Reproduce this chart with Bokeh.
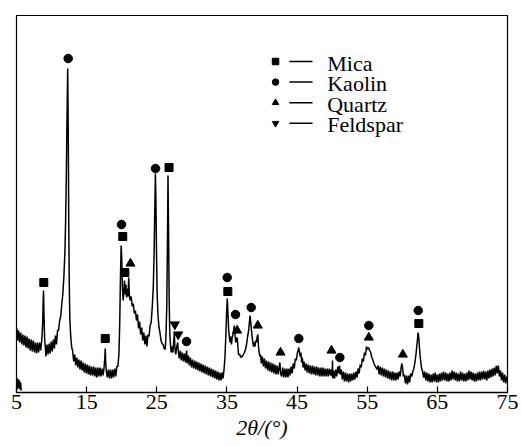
from bokeh.plotting import figure
from bokeh.models import Range1d, FixedTicker
from bokeh.embed import file_html
from bokeh.resources import INLINE
from bokeh.core.properties import value

# ---------------- data ----------------
two_theta = [
    5.05, 5.2, 5.3, 5.45, 5.6, 5.75, 5.9, 6.05, 6.2, 6.35,
    6.5, 6.65, 6.8, 6.95, 7.1, 7.25, 7.4, 7.55, 7.7, 7.85,
    8.0, 8.15, 8.3, 8.45, 8.6, 8.72, 8.8, 8.85, 8.92, 9.0,
    9.1, 9.2, 9.35, 9.5, 9.65, 9.8, 9.95, 10.1, 10.25, 10.4,
    10.55, 10.7, 10.85, 11.0, 11.15, 11.3, 11.45, 11.6, 11.75, 11.9,
    12.0, 12.1, 12.2, 12.3, 12.38, 12.45, 12.52, 12.6, 12.7, 12.8,
    12.9, 13.0, 13.15, 13.3, 13.45, 13.6, 13.75, 13.9, 14.05, 14.2,
    14.35, 14.5, 14.65, 14.8, 14.95, 15.1, 15.25, 15.4, 15.55, 15.7,
    15.85, 16.0, 16.15, 16.3, 16.45, 16.6, 16.75, 16.9, 17.05, 17.2,
    17.35, 17.5, 17.6, 17.65, 17.72, 17.8, 17.95, 18.1, 18.25, 18.4,
    18.55, 18.7, 18.85, 19.0, 19.15, 19.3, 19.45, 19.6, 19.72, 19.82,
    19.92, 20.0, 20.1, 20.2, 20.3, 20.4, 20.5, 20.6, 20.7, 20.8,
    20.9, 21.0, 21.08, 21.2, 21.35, 21.5, 21.65, 21.8, 21.95, 22.1,
    22.25, 22.4, 22.55, 22.7, 22.85, 23.0, 23.15, 23.3, 23.45, 23.6,
    23.75, 23.9, 24.05, 24.2, 24.35, 24.5, 24.62, 24.72, 24.8, 24.88,
    24.96, 25.05, 25.15, 25.3, 25.45, 25.6, 25.75, 25.9, 26.05, 26.2,
    26.3, 26.42, 26.52, 26.6, 26.68, 26.76, 26.85, 26.95, 27.05, 27.15,
    27.3, 27.42, 27.5, 27.58, 27.7, 27.85, 27.98, 28.08, 28.2, 28.35,
    28.5, 28.65, 28.8, 28.95, 29.1, 29.25, 29.35, 29.5, 29.65, 29.8,
    29.95, 30.1, 30.25, 30.4, 30.55, 30.7, 30.85, 31.0, 31.15, 31.3,
    31.45, 31.6, 31.75, 31.9, 32.05, 32.2, 32.35, 32.5, 32.65, 32.8,
    32.95, 33.1, 33.25, 33.4, 33.55, 33.7, 33.85, 34.0, 34.15, 34.3,
    34.45, 34.6, 34.72, 34.85, 34.95, 35.05, 35.15, 35.25, 35.35, 35.45,
    35.55, 35.65, 35.75, 35.85, 35.95, 36.05, 36.15, 36.25, 36.35, 36.45,
    36.55, 36.65, 36.75, 36.85, 36.95, 37.05, 37.2, 37.35, 37.5, 37.65,
    37.8, 37.95, 38.1, 38.2, 38.3, 38.4, 38.5, 38.6, 38.7, 38.8,
    38.9, 39.0, 39.1, 39.2, 39.3, 39.4, 39.5, 39.6, 39.7, 39.8,
    39.9, 40.05, 40.2, 40.35, 40.5, 40.65, 40.8, 40.95, 41.1, 41.25,
    41.4, 41.55, 41.7, 41.85, 42.0, 42.15, 42.3, 42.45, 42.55, 42.65,
    42.8, 42.95, 43.1, 43.25, 43.4, 43.55, 43.7, 43.85, 44.0, 44.15,
    44.3, 44.45, 44.6, 44.75, 44.9, 45.05, 45.15, 45.25, 45.35, 45.45,
    45.55, 45.65, 45.75, 45.85, 46.0, 46.15, 46.3, 46.45, 46.6, 46.75,
    46.9, 47.05, 47.2, 47.35, 47.5, 47.65, 47.8, 47.95, 48.1, 48.25,
    48.4, 48.55, 48.7, 48.85, 49.0, 49.15, 49.3, 49.45, 49.6, 49.75,
    49.9, 50.0, 50.05, 50.1, 50.2, 50.35, 50.5, 50.65, 50.8, 50.95,
    51.05, 51.15, 51.3, 51.45, 51.6, 51.75, 51.9, 52.05, 52.2, 52.35,
    52.5, 52.65, 52.8, 52.95, 53.1, 53.25, 53.4, 53.55, 53.7, 53.85,
    54.0, 54.15, 54.3, 54.45, 54.6, 54.75, 54.9, 55.05, 55.2, 55.35,
    55.5, 55.65, 55.8, 55.95, 56.1, 56.25, 56.4, 56.55, 56.7, 56.85,
    57.0, 57.15, 57.3, 57.45, 57.6, 57.75, 57.9, 58.05, 58.2, 58.35,
    58.5, 58.65, 58.8, 58.95, 59.1, 59.25, 59.4, 59.55, 59.7, 59.85,
    59.95, 60.05, 60.15, 60.3, 60.45, 60.6, 60.75, 60.9, 61.05, 61.2,
    61.35, 61.5, 61.65, 61.8, 61.95, 62.05, 62.15, 62.25, 62.35, 62.45,
    62.55, 62.65, 62.75, 62.9, 63.05, 63.2, 63.35, 63.5, 63.65, 63.8,
    63.95, 64.1, 64.25, 64.4, 64.55, 64.7, 64.85, 65.0, 65.15, 65.3,
    65.45, 65.6, 65.75, 65.9, 66.05, 66.2, 66.35, 66.5, 66.65, 66.8,
    66.95, 67.1, 67.25, 67.4, 67.55, 67.7, 67.85, 68.0, 68.15, 68.3,
    68.45, 68.6, 68.75, 68.9, 69.05, 69.2, 69.35, 69.5, 69.65, 69.8,
    69.95, 70.1, 70.25, 70.4, 70.55, 70.7, 70.85, 71.0, 71.15, 71.3,
    71.45, 71.6, 71.75, 71.9, 72.05, 72.2, 72.35, 72.5, 72.65, 72.8,
    72.95, 73.1, 73.25, 73.4, 73.55, 73.7, 73.85, 74.0, 74.15, 74.3,
    74.45, 74.6, 74.75, 74.9,
]
intensity = [
    64, 52, 62, 50, 60, 48, 58, 47, 57, 45,
    56, 44, 54, 42, 53, 41, 52, 40, 50, 39,
    50, 40, 50, 42, 52, 68, 90, 102, 78, 55,
    46, 36, 48, 38, 49, 39, 51, 41, 53, 44,
    57, 48, 62, 62, 72, 76, 88, 98, 115, 140,
    170, 215, 275, 324, 260, 170, 110, 75, 60, 50,
    44, 42, 31, 38, 27, 35, 25, 33, 23, 32,
    22, 30, 20, 29, 19, 28, 18, 27, 17, 26,
    17, 26, 16, 25, 15, 25, 16, 25, 16, 24,
    17, 26, 36, 44, 30, 22, 15, 23, 14, 23,
    14, 23, 15, 24, 16, 26, 26, 38, 70, 115,
    147, 135, 105, 92, 100, 112, 98, 108, 95, 104,
    96, 115, 98, 92, 96, 86, 89, 79, 82, 72,
    78, 64, 71, 58, 65, 52, 60, 48, 57, 46,
    58, 56, 67, 70, 85, 105, 140, 185, 219, 190,
    140, 100, 80, 66, 60, 52, 49, 48, 44, 43,
    55, 85, 150, 217, 160, 95, 60, 48, 40, 46,
    40, 52, 60, 45, 38, 46, 50, 40, 34, 42,
    32, 40, 31, 39, 30, 42, 29, 37, 27, 35,
    25, 33, 24, 32, 23, 31, 22, 30, 21, 29,
    20, 28, 19, 27, 18, 26, 17, 25, 16, 24,
    15, 23, 14, 22, 13, 21, 12, 20, 12, 20,
    14, 24, 35, 58, 80, 94, 78, 62, 55, 50,
    56, 48, 55, 58, 62, 67, 58, 50, 54, 55,
    48, 38, 38, 38, 35, 36, 36, 38, 40, 43,
    48, 56, 62, 70, 77, 70, 62, 55, 50, 46,
    50, 46, 52, 50, 55, 58, 46, 40, 36, 38,
    29, 36, 26, 34, 24, 32, 22, 31, 21, 30,
    20, 29, 19, 28, 18, 27, 18, 26, 30, 19,
    16, 25, 15, 24, 15, 24, 15, 24, 17, 26,
    19, 29, 24, 34, 32, 40, 42, 45, 40, 36,
    40, 30, 35, 25, 31, 22, 29, 20, 28, 19,
    27, 18, 27, 18, 26, 17, 26, 17, 25, 16,
    25, 16, 25, 16, 24, 16, 24, 16, 24, 17,
    23, 16, 32, 14, 22, 14, 23, 16, 26, 19,
    27, 18, 23, 13, 21, 11, 20, 11, 19, 10,
    19, 11, 19, 12, 20, 13, 21, 15, 24, 19,
    28, 25, 34, 31, 40, 37, 46, 43, 45, 42,
    40, 35, 33, 29, 27, 25, 23, 27, 18, 26,
    17, 25, 16, 24, 15, 23, 14, 22, 13, 21,
    12, 21, 12, 20, 12, 20, 13, 21, 16, 26,
    29, 24, 16, 18, 9, 17, 8, 17, 10, 19,
    16, 21, 24, 30, 38, 45, 52, 60, 55, 45,
    36, 30, 24, 21, 15, 21, 12, 20, 11, 19,
    10, 18, 10, 19, 11, 20, 10, 18, 10, 19,
    11, 20, 12, 21, 12, 20, 11, 19, 11, 20,
    12, 22, 13, 21, 12, 20, 11, 19, 11, 21,
    12, 20, 11, 19, 11, 20, 12, 22, 13, 21,
    12, 20, 11, 19, 11, 20, 12, 21, 12, 21,
    13, 22, 13, 21, 12, 22, 14, 23, 15, 24,
    16, 25, 17, 27, 19, 27, 16, 22, 12, 20,
    10, 18, 9, 16,
]
assert len(two_theta) == len(intensity)

# short trace at the very start of the scan (near the axis)
start_theta = [5.08, 5.14, 5.2, 5.27, 5.34, 5.42, 5.5, 5.58, 5.66]
start_int = [3, 14, 4, 13, 5, 12, 3, 10, 2]

# phase marks
mica_theta = [8.89, 17.65, 20.15, 20.45, 26.75, 35.13, 62.36]
mica_int = [110, 54, 156, 120, 225, 101, 69]
kaolin_theta = [12.37, 19.97, 24.82, 29.24, 35.04, 36.22, 38.46, 45.25, 51.1, 55.23, 62.27]
kaolin_int = [334, 168, 224, 51, 115, 78, 85, 54, 35, 67, 82]
quartz_theta = [21.25, 36.46, 39.4, 42.64, 49.91, 55.23, 60.08]
quartz_int = [129, 62, 67, 40, 42, 55, 38]
feldspar_theta = [27.57, 28.05]
feldspar_int = [68, 58]

legend_labels = ["Mica", "Kaolin", "Quartz", "Feldspar"]
legend_markers = ["square", "circle", "triangle", "inverted_triangle"]

x_ticks = [5, 15, 25, 35, 45, 55, 65, 75]
x_title = "2θ/(°)"

# ---------------- figure ----------------
FONT = "Liberation Serif"
p = figure(width=521, height=446, x_range=Range1d(5, 75), y_range=Range1d(0, 377),
           output_backend="svg", toolbar_location=None, y_axis_location=None,
           min_border_left=16, min_border_right=14, min_border_top=15, min_border_bottom=54)
p.grid.visible = False
p.outline_line_color = "black"
p.outline_line_width = 1.2
p.outline_line_alpha = 1
p.background_fill_color = "white"
p.border_fill_color = "white"

ax = p.xaxis[0]
ax.ticker = FixedTicker(ticks=x_ticks)
ax.major_tick_in = 6
ax.major_tick_out = 0
ax.minor_tick_line_color = None
ax.axis_line_width = 1.3
ax.major_tick_line_width = 1.2
ax.major_label_text_font = FONT
ax.major_label_text_font_size = "22px"
ax.major_label_text_color = "black"
ax.major_label_standoff = 2
ax.axis_label = x_title
ax.axis_label_text_font = FONT
ax.axis_label_text_font_style = "italic"
ax.axis_label_text_font_size = "22px"
ax.axis_label_text_color = "black"
ax.axis_label_standoff = 3

p.line(start_theta, start_int, line_color="black", line_width=1.6)
p.line(two_theta, intensity, line_color="black", line_width=1.5)

p.scatter(mica_theta, mica_int, marker="square", size=8, color="black")
p.scatter(kaolin_theta, kaolin_int, marker="circle", size=8.5, color="black")
p.scatter(quartz_theta, quartz_int, marker="triangle", size=9, color="black")
p.scatter(feldspar_theta, feldspar_int, marker="inverted_triangle", size=9, color="black")

# legend drawn as in the original: marker, dash, name
leg_y = [331 - 20.6 * i for i in range(len(legend_labels))]
for lab, mk, yy in zip(legend_labels, legend_markers, leg_y):
    p.scatter([41.93], [yy], marker=mk, size=6.5, color="black")
    p.segment(x0=[43.9], y0=[yy], x1=[47.2], y1=[yy], line_color="black", line_width=1.5)
    p.text(x=[49.3], y=[yy - 1.5], text=[lab], text_font=value(FONT),
           text_font_size=value("22px"), text_baseline="middle", text_align="left",
           text_color="black")

open("out.html", "w").write(file_html(p, INLINE))
